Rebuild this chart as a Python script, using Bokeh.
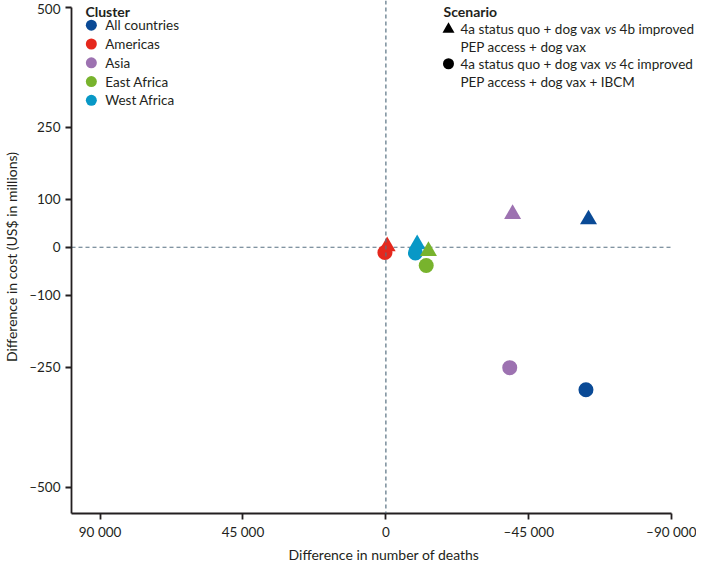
from bokeh.plotting import figure
from bokeh.models import Range1d, FixedTicker, Span, Label
from bokeh.embed import file_html
from bokeh.resources import INLINE

# ---- data ----
clusters = ["All countries", "Americas", "Asia", "East Africa", "West Africa"]
colors = ["#0a4a96", "#e5281d", "#9d72b1", "#78b32d", "#0898c6"]
# scenario 4b (triangles)
tri_deaths = [-63800, -400, -39900, -13400, -9850]
tri_cost = [58, 2, 69, -8, 6]
# scenario 4c (circles)
circ_deaths = [-63000, 300, -39000, -12700, -9300]
circ_cost = [-297, -11, -251, -38, -12]

x_ticks = [90000, 45000, 0, -45000, -90000]
x_tick_labels = ["90 000", "45 000", "0", "\u201345 000", "\u201390 000"]
y_ticks = [500, 250, 100, 0, -100, -250, -500]
y_tick_labels = ["500", "250", "100", "0", "\u2013100", "\u2013250", "\u2013500"]

scenario_title = "Scenario"
cluster_title = "Cluster"
scen_b = ["4a status quo + dog vax", "vs", "4b improved", "PEP access + dog vax"]
scen_c = ["4a status quo + dog vax", "vs", "4c improved", "PEP access + dog vax + IBCM"]

# ---- layout ----
W, H = 696, 565
FL, FT, FB = 66, 0, 46
FH = H - FT - FB
X0, XEND_AX = 99000, -90000
PX_PER = (X0 - XEND_AX) / 605.0
X1 = XEND_AX - (W - FL - 605) * PX_PER
FW = W - FL
Y0 = -555
Y1 = 500 + 7 / (FH - 7) * (500 - Y0)

FONT = "Lato"
INK = "#231f20"

p = figure(width=W, height=H, x_range=Range1d(X0, X1), y_range=Range1d(Y0, Y1),
           output_backend="svg", toolbar_location=None,
           min_border_left=FL, min_border_right=0, min_border_top=FT, min_border_bottom=FB)
p.outline_line_color = None
p.xgrid.visible = False
p.ygrid.visible = False
p.background_fill_color = "white"
p.border_fill_color = "white"

for ax in (p.xaxis[0], p.yaxis[0]):
    ax.axis_line_color = INK
    ax.axis_line_width = 1.8
    ax.major_tick_line_color = INK
    ax.major_tick_line_width = 1.8
    ax.major_tick_out = 6
    ax.major_tick_in = 0
    ax.minor_tick_line_color = None
    ax.major_label_text_font = FONT
    ax.major_label_text_font_size = "13.5px"
    ax.major_label_text_color = INK
    ax.axis_label_text_font = FONT
    ax.axis_label_text_font_size = "14px"
    ax.axis_label_text_font_style = "normal"
    ax.axis_label_text_color = INK

p.xaxis.ticker = FixedTicker(ticks=x_ticks)
p.xaxis.major_label_overrides = dict(zip(x_ticks, x_tick_labels))
p.xaxis.axis_label = "Difference in number of deaths"
p.xaxis.bounds = (X0, XEND_AX)
p.xaxis.major_label_standoff = 4
p.xaxis.axis_label_standoff = 3

p.yaxis.ticker = FixedTicker(ticks=y_ticks)
p.yaxis.major_label_overrides = dict(zip(y_ticks, y_tick_labels))
p.yaxis.axis_label = "Difference in cost (US$ in millions)"
p.yaxis.bounds = (Y0, 500)
p.yaxis.major_label_standoff = 5
p.yaxis.axis_label_standoff = 6

dash_col = "#587182"
p.add_layout(Span(location=0, dimension="height", line_color=dash_col, line_dash="4 3", line_width=1.2))
p.segment(x0=[X0], y0=[0], x1=[XEND_AX], y1=[0], line_color=dash_col, line_dash="4 3", line_width=1.2)

# ---- data marks ----
for i in range(len(clusters)):
    p.scatter(x=[circ_deaths[i]], y=[circ_cost[i]], marker="circle", size=15,
              fill_color=colors[i], line_color=None)
for i in [0, 1, 2, 4, 3]:
    p.scatter(x=[tri_deaths[i]], y=[tri_cost[i]], marker="triangle", size=17,
              fill_color=colors[i], line_color=None)

# ---- legends (positions given in canvas pixels, converted to data) ----
def sx(px):
    return X0 + (px - FL) / FW * (X1 - X0)

def sy(py):
    return Y1 - (py - FT) / FH * (Y1 - Y0)

def lab(px, py, text, bold=False, italic=False, align="left", size="13.5px"):
    style = "bold" if bold else ("italic" if italic else "normal")
    p.add_layout(Label(x=sx(px), y=sy(py), text=text, text_font=FONT, text_font_size=size,
                       text_font_style=style, text_color=INK, text_baseline="middle",
                       text_align=align))

# cluster legend
lab(80, 11, cluster_title, bold=True, size="14px")
for i, name in enumerate(clusters):
    yy = 25 + i * 19
    p.scatter(x=[sx(86)], y=[sy(yy)], marker="circle", size=11, fill_color=colors[i], line_color=None)
    lab(100, yy, name)

# scenario legend
tx = 458
lab(441, 11, scenario_title, bold=True, size="14px")
p.scatter(x=[sx(446)], y=[sy(29)], marker="triangle", size=12, fill_color="black", line_color=None)
p.scatter(x=[sx(446)], y=[sy(64)], marker="circle", size=11, fill_color="black", line_color=None)
for yy, parts in [(29, scen_b), (64, scen_c)]:
    lab(tx, yy, parts[0])
    lab(tx + 145.5, yy, parts[1], italic=True)
    lab(tx + 160.5, yy, parts[2])
    lab(tx, yy + 18, parts[3])

open("out.html", "w").write(file_html(p, INLINE))
